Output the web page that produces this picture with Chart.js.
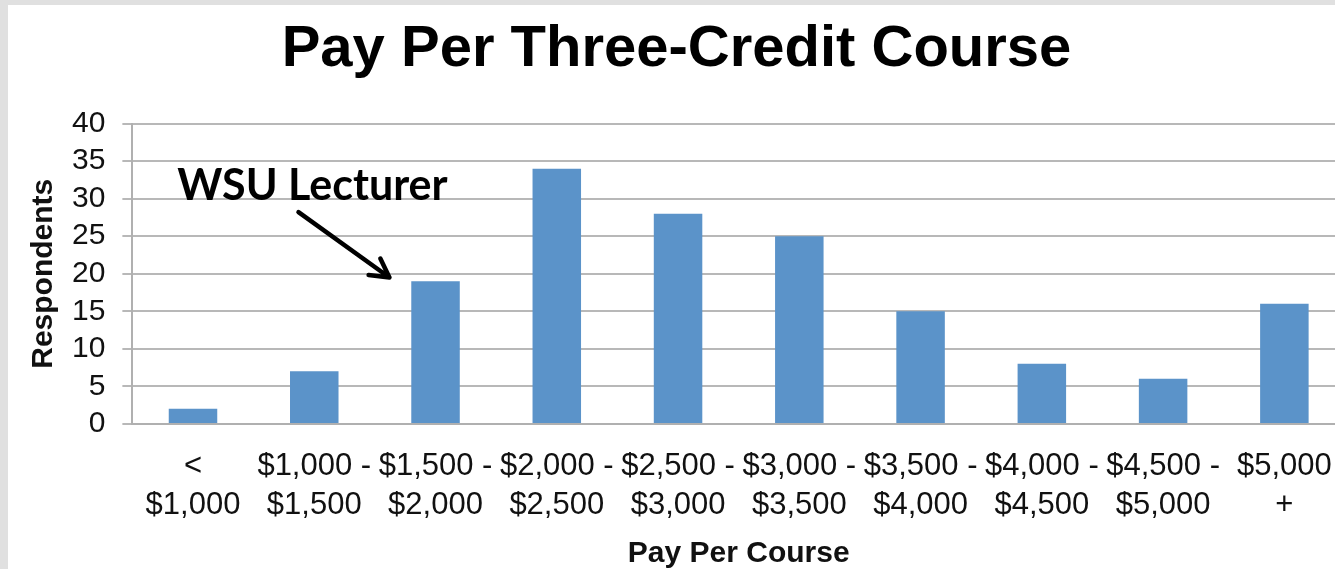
<!DOCTYPE html>
<html>
<head>
<meta charset="utf-8">
<script src="https://cdn.jsdelivr.net/npm/chart.js@4.4.0/dist/chart.umd.min.js"></script>
<style>
    html, body {
        margin: 0;
        padding: 0;
        width: 1335px;
        height: 569px;
        overflow: hidden;
        background: #e0e0e0;
    }
    .panel {
        position: absolute;
        left: 8px;
        top: 5px;
        right: 0;
        bottom: 0;
        background: #ffffff;
    }
    .chart-box {
        position: absolute;
        left: 8px;
        top: 5px;
        width: 1344px;
        height: 564px;
    }
</style>
</head>
<body>
<div class="panel"></div>
<div class="chart-box"><canvas id="chart"></canvas></div>
<script>
const categories = [
    ['<', '$1,000'],
    ['$1,000 -', '$1,500'],
    ['$1,500 -', '$2,000'],
    ['$2,000 -', '$2,500'],
    ['$2,500 -', '$3,000'],
    ['$3,000 -', '$3,500'],
    ['$3,500 -', '$4,000'],
    ['$4,000 -', '$4,500'],
    ['$4,500 -', '$5,000'],
    ['$5,000', '+'],
];
const respondents = [2, 7, 19, 34, 28, 25, 15, 8, 6, 16];

// annotation anchors, in data units (category index, respondents)
const noteText = 'WSU Lecturer';
const noteAt = [-0.13, 29.8];
const arrowFrom = [0.87, 28.2];
const arrowTo = [1.62, 19.5];

const FONT = "'Liberation Sans', Arial, Helvetica, sans-serif";

const lecturerNote = {
    id: 'lecturerNote',
    afterDatasetsDraw(chart) {
        const { ctx, scales: { x, y } } = chart;
        const px = p => [x.getPixelForValue(p[0]), y.getPixelForValue(p[1])];
        ctx.save();
        ctx.fillStyle = '#000';
        ctx.font = "bold 43px Lato, 'Open Sans', sans-serif";
        ctx.textAlign = 'left';
        ctx.textBaseline = 'alphabetic';
        const [tx, ty] = px(noteAt);
        ctx.fillText(noteText, tx, ty);

        const [x0, y0] = px(arrowFrom);
        const [x1, y1] = px(arrowTo);
        ctx.strokeStyle = '#000';
        ctx.lineWidth = 4.5;
        ctx.lineCap = 'round';
        ctx.lineJoin = 'round';
        ctx.beginPath();
        ctx.moveTo(x0, y0);
        ctx.lineTo(x1, y1);
        const ang = Math.atan2(y1 - y0, x1 - x0);
        const head = 21;
        ctx.moveTo(x1 - head * Math.cos(ang - 0.5), y1 - head * Math.sin(ang - 0.5));
        ctx.lineTo(x1, y1);
        ctx.lineTo(x1 - head * Math.cos(ang + 0.5), y1 - head * Math.sin(ang + 0.5));
        ctx.stroke();
        ctx.restore();
    }
};

new Chart(document.getElementById('chart'), {
    type: 'bar',
    data: {
        labels: categories,
        datasets: [{
            data: respondents,
            backgroundColor: '#5b93c9',
            borderWidth: 0,
            barPercentage: 0.4,
            categoryPercentage: 1.0,
        }],
    },
    options: {
        responsive: true,
        maintainAspectRatio: false,
        animation: false,
        devicePixelRatio: 1,
        layout: {
            padding: { left: 0, right: 7, top: 0, bottom: 0 },
        },
        plugins: {
            legend: { display: false },
            tooltip: { enabled: false },
            title: {
                display: true,
                text: 'Pay Per Three-Credit Course',
                color: '#000',
                font: { family: FONT, size: 58, weight: 'bold', lineHeight: 1.2 },
                padding: { top: 10, bottom: 39 },
            },
        },
        scales: {
            x: {
                grid: { display: false },
                border: { display: true, color: '#b0b0b0', width: 2 },
                ticks: {
                    color: '#111',
                    font: { family: FONT, size: 31, lineHeight: 1.26 },
                    padding: 15,
                    maxRotation: 0,
                    minRotation: 0,
                    autoSkip: false,
                },
                title: {
                    display: true,
                    text: 'Pay Per Course',
                    color: '#111',
                    font: { family: FONT, size: 30, weight: 'bold', lineHeight: 1.2 },
                    padding: { top: -4, bottom: -3 },
                },
            },
            y: {
                min: 0,
                max: 40,
                grid: {
                    color: '#b8b8b8',
                    lineWidth: 2,
                    drawTicks: true,
                    tickLength: 10,
                },
                border: { display: true, color: '#b0b0b0', width: 2 },
                ticks: {
                    stepSize: 5,
                    autoSkip: false,
                    color: '#111',
                    font: { family: FONT, size: 30 },
                    padding: 17,
                },
                title: {
                    display: true,
                    text: 'Respondents',
                    color: '#111',
                    font: { family: FONT, size: 30, weight: 'bold', lineHeight: 1.2 },
                    padding: { top: 18, bottom: -7 },
                },
            },
        },
    },
    plugins: [lecturerNote],
});
</script>
</body>
</html>
